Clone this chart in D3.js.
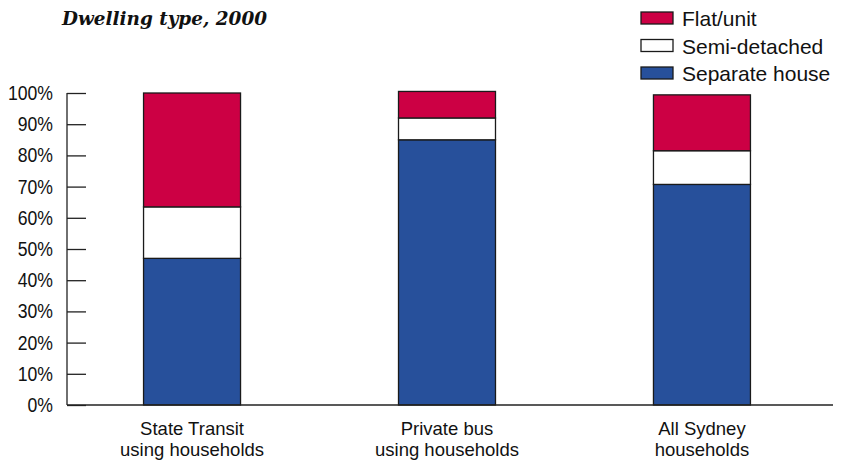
<!DOCTYPE html>
<html><head><meta charset="utf-8">
<script src="https://cdn.jsdelivr.net/npm/d3@7"></script>
<style>
body{margin:0;background:#fff;}
svg{display:block;}
</style></head>
<body>
<svg id="chart" width="849" height="461"></svg>
<script>
const categories = [["State Transit","using households"],["Private bus","using households"],["All Sydney","households"]];
const seriesNames = ["Separate house","Semi-detached","Flat/unit"];
const separateHouse = [47.0, 85.0, 70.7];
const semiDetached = [16.5, 7.0, 10.8];
const flatUnit = [36.5, 8.5, 17.9];
const yTicks = [0,10,20,30,40,50,60,70,80,90,100];
const colors = ["#27509b","#ffffff","#cc0044"];
const title = "Dwelling type, 2000";

const svg = d3.select("#chart");
const narrow = "'Liberation Sans Narrow','Arial Narrow','Liberation Sans',sans-serif";

const x = d3.scaleBand().domain(d3.range(categories.length)).range([64,830])
  .paddingInner(0.6196).paddingOuter(0.312);
const y = d3.scaleLinear().domain([0,100]).range([405,93]);

const data = categories.map((c,i)=>({i, v:[separateHouse[i], semiDetached[i], flatUnit[i]]}));
const stack = d3.stack().keys([0,1,2]).value((d,k)=>d.v[k]);
const stacked = stack(data);

// bars
stacked.forEach((layer,k)=>{
  svg.append("g").selectAll("rect").data(layer).join("rect")
    .attr("x", d=>x(d.data.i))
    .attr("width", x.bandwidth())
    .attr("y", d=>y(d[1]))
    .attr("height", d=>y(d[0])-y(d[1]))
    .attr("fill", colors[k])
    .attr("stroke", "#1a1a1a")
    .attr("stroke-width", 1.3);
});

// y axis
const yAxis = d3.axisRight(y).tickValues(yTicks).tickSize(19).tickFormat(d=>"");
const ga = svg.append("g").attr("transform","translate(67,0)").call(yAxis);
ga.select(".domain").remove();
ga.selectAll(".tick line").attr("stroke","#222").attr("stroke-width",1.3);
svg.append("line").attr("x1",67).attr("x2",67).attr("y1",y(100)).attr("y2",y(0)).attr("stroke","#222").attr("stroke-width",1.3);
svg.append("line").attr("x1",67).attr("x2",833).attr("y1",y(0)).attr("y2",y(0)).attr("stroke","#222").attr("stroke-width",1.5);

svg.append("g").selectAll("text").data(yTicks).join("text")
  .attr("transform",d=>`translate(53,${y(d)+7}) scale(0.86,1)`)
  .attr("text-anchor","end")
  .attr("font-family",narrow).attr("font-size",20.5).attr("fill","#111")
  .text(d=>d+"%");

// category labels (one text per line)
const lines = [];
categories.forEach((c,i)=>c.forEach((line,j)=>lines.push({i,j,line})));
svg.append("g").selectAll("text").data(lines).join("text")
  .attr("x",d=>x(d.i)+x.bandwidth()/2)
  .attr("y",d=>435+d.j*21)
  .attr("text-anchor","middle")
  .attr("font-family",narrow).attr("font-size",18.5).attr("fill","#111")
  .text(d=>d.line);

// title
svg.append("text").attr("x",62).attr("y",25)
  .attr("font-family","'DejaVu Serif',serif")
  .attr("font-weight","bold").attr("font-style","italic")
  .attr("font-size",19).attr("fill","#111")
  .attr("textLength",205).attr("lengthAdjust","spacingAndGlyphs")
  .text(title);

// legend
const legendOrder = [2,1,0];
const lg = svg.append("g").selectAll("g").data(legendOrder).join("g")
  .attr("transform",(d,j)=>`translate(641,${12+j*27.5})`);
lg.append("rect").attr("width",32).attr("height",12).attr("fill",d=>colors[d])
  .attr("stroke","#1a1a1a").attr("stroke-width",1.3);
lg.append("text").attr("x",41).attr("y",14)
  .attr("font-family",narrow).attr("font-size",21).attr("fill","#111")
  .text(d=>seriesNames[d]);
</script>
</body></html>
